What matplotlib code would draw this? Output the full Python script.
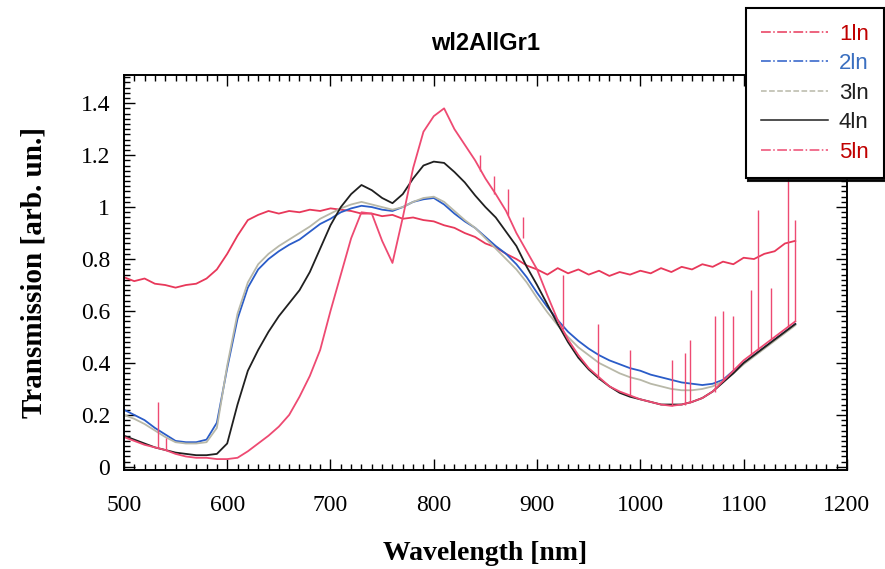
import numpy as np
import matplotlib.pyplot as plt
from matplotlib.lines import Line2D
from matplotlib.ticker import MultipleLocator

# wavelength grid [nm]
wl = list(range(500, 1160, 10))

# transmission values (every 10 nm)
t1 = [0.73, 0.715, 0.725, 0.705, 0.70, 0.69, 0.70, 0.705, 0.725, 0.76,
      0.82, 0.89, 0.95, 0.97, 0.985, 0.975, 0.985, 0.98, 0.99, 0.985,
      0.995, 0.99, 0.985, 0.975, 0.975, 0.965, 0.97, 0.955, 0.96, 0.95,
      0.945, 0.93, 0.92, 0.90, 0.885, 0.86, 0.845, 0.82, 0.80, 0.775,
      0.76, 0.74, 0.765, 0.745, 0.76, 0.74, 0.755, 0.735, 0.75, 0.74,
      0.755, 0.745, 0.765, 0.75, 0.77, 0.76, 0.78, 0.77, 0.79, 0.78,
      0.805, 0.80, 0.82, 0.83, 0.86, 0.87]
t2 = [0.22, 0.20, 0.18, 0.15, 0.125, 0.10, 0.095, 0.095, 0.105, 0.17,
      0.38, 0.57, 0.69, 0.76, 0.80, 0.83, 0.855, 0.875, 0.905, 0.935,
      0.955, 0.98, 0.995, 1.005, 1.0, 0.99, 0.985, 1.0, 1.02, 1.03,
      1.035, 1.01, 0.975, 0.945, 0.92, 0.885, 0.85, 0.82, 0.78, 0.73,
      0.67, 0.615, 0.565, 0.52, 0.485, 0.455, 0.43, 0.41, 0.395, 0.38,
      0.37, 0.355, 0.345, 0.335, 0.325, 0.32, 0.315, 0.32, 0.335, 0.37,
      0.40, 0.43, 0.46, 0.49, 0.52, 0.55]
t3 = [0.20, 0.185, 0.165, 0.14, 0.115, 0.095, 0.09, 0.09, 0.095, 0.15,
      0.39, 0.59, 0.71, 0.78, 0.82, 0.85, 0.875, 0.90, 0.925, 0.955,
      0.975, 0.995, 1.01, 1.02, 1.01, 1.0, 0.99, 1.0, 1.02, 1.035,
      1.04, 1.02, 0.985, 0.95, 0.92, 0.88, 0.84, 0.80, 0.76, 0.71,
      0.65, 0.595, 0.545, 0.50, 0.46, 0.43, 0.40, 0.38, 0.36, 0.345,
      0.335, 0.32, 0.31, 0.30, 0.295, 0.295, 0.30, 0.31, 0.33, 0.36,
      0.395, 0.425, 0.455, 0.485, 0.515, 0.545]
t4 = [0.12, 0.105, 0.09, 0.075, 0.065, 0.055, 0.05, 0.045, 0.045, 0.05,
      0.09, 0.24, 0.37, 0.45, 0.52, 0.58, 0.63, 0.68, 0.75, 0.84,
      0.93, 1.0, 1.05, 1.085, 1.065, 1.035, 1.015, 1.05, 1.11, 1.16,
      1.175, 1.17, 1.135, 1.095, 1.045, 1.0, 0.96, 0.905, 0.85, 0.77,
      0.70, 0.625, 0.55, 0.48, 0.42, 0.375, 0.34, 0.31, 0.285, 0.27,
      0.26, 0.25, 0.24, 0.24, 0.24, 0.25, 0.265, 0.29, 0.325, 0.36,
      0.40, 0.43, 0.46, 0.49, 0.52, 0.55]
t5 = [0.115, 0.10, 0.085, 0.075, 0.065, 0.05, 0.04, 0.035, 0.035, 0.03,
      0.03, 0.035, 0.06, 0.09, 0.12, 0.155, 0.20, 0.27, 0.35, 0.45,
      0.60, 0.74, 0.88, 0.98, 0.975, 0.87, 0.785, 0.96, 1.15, 1.29,
      1.35, 1.38, 1.30, 1.24, 1.18, 1.11, 1.05, 0.985, 0.90, 0.83,
      0.76, 0.66, 0.565, 0.49, 0.43, 0.38, 0.345, 0.31, 0.29, 0.275,
      0.26, 0.25, 0.24, 0.235, 0.24, 0.25, 0.265, 0.29, 0.33, 0.37,
      0.41, 0.44, 0.47, 0.50, 0.53, 0.56]

# narrow spikes on the 5ln trace
spike_wl = [533, 541, 845, 858, 872, 886, 925, 959, 990, 1031, 1043, 1048,
            1072, 1080, 1090, 1107, 1114, 1126, 1143, 1150]
spike_lo = [0.075, 0.065, 1.14, 1.05, 0.97, 0.88, 0.53, 0.34, 0.275, 0.235,
            0.24, 0.245, 0.29, 0.33, 0.37, 0.43, 0.45, 0.49, 0.54, 0.56]
spike_hi = [0.25, 0.11, 1.20, 1.12, 1.07, 0.96, 0.74, 0.55, 0.45, 0.41,
            0.44, 0.49, 0.58, 0.60, 0.58, 0.68, 0.99, 0.69, 1.12, 0.95]

labels = ['1ln', '2ln', '3ln', '4ln', '5ln']
line_colors = ['#e8385a', '#2a5cc8', '#b8b8a8', '#202020', '#ee4a72']
text_colors = ['#c00000', '#3a6fc0', '#202020', '#202020', '#c00000']
styles = ['-.', '-.', '--', '-', '-.']

yticks = [0, 0.2, 0.4, 0.6, 0.8, 1, 1.2, 1.4]
ytick_labels = ['0', '0.2', '0.4', '0.6', '0.8', '1', '1.2', '1.4']
xticks = [500, 600, 700, 800, 900, 1000, 1100, 1200]

serif = ['Liberation Serif', 'DejaVu Serif']
sans = ['Liberation Sans', 'DejaVu Sans']

fig = plt.figure(figsize=(8.85, 5.69), dpi=100)
ax = fig.add_axes([0.140, 0.174, 0.817, 0.694])

series = [t1, t2, t3, t4, t5]
order = [0, 2, 1, 3, 4]
for i in order:
    ax.plot(wl, series[i], color=line_colors[i], lw=1.3, zorder=2 + i * 0.1)
ax.vlines(spike_wl, spike_lo, spike_hi, color=line_colors[4], lw=1.0, zorder=3)

ax.set_xlim(500, 1200)
ax.set_ylim(-0.012, 1.508)
ax.set_xticks(xticks)
ax.set_yticks(yticks)
ax.set_yticklabels(ytick_labels)
ax.xaxis.set_minor_locator(MultipleLocator(10))
ax.yaxis.set_minor_locator(MultipleLocator(0.02))
ax.tick_params(which='both', direction='in', top=True, right=True, width=1.0)
ax.tick_params(which='major', length=8)
ax.tick_params(which='minor', length=4)
ax.tick_params(axis='x', which='major', pad=18)
ax.tick_params(axis='y', which='major', pad=10)
for lab in ax.get_xticklabels() + ax.get_yticklabels():
    lab.set_family(serif)
    lab.set_fontsize(17)
for s in ax.spines.values():
    s.set_linewidth(1.4)

ax.set_xlabel('Wavelength [nm]', family=serif, fontsize=20, fontweight='bold', labelpad=18)
ax.set_ylabel('Transmission [arb. un.]', family=serif, fontsize=21, fontweight='bold', labelpad=24)
ax.set_title('wl2AllGr1', family=sans, fontsize=17, fontweight='bold', pad=18)

handles = [Line2D([0], [0], color=line_colors[i], ls=styles[i], lw=1.1) for i in range(5)]
leg = fig.legend(handles, labels, loc='upper left', bbox_to_anchor=(0.830, 1.005),
                 fancybox=False, shadow={'color': 'black', 'alpha': 0.9}, framealpha=1,
                 edgecolor='black', handlelength=3.0, labelspacing=0.38,
                 prop={'family': sans, 'size': 16}, borderpad=0.7, handletextpad=0.5)
leg.get_frame().set_linewidth(1.5)
for txt, c in zip(leg.get_texts(), text_colors):
    txt.set_color(c)

fig.savefig('out.png', dpi=100)
